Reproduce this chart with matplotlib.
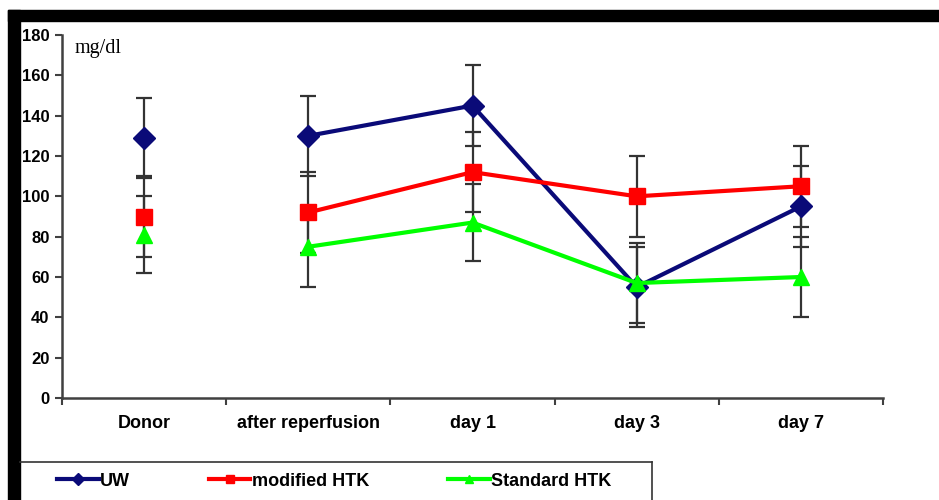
import numpy as np
import matplotlib.pyplot as plt
from matplotlib.lines import Line2D
from matplotlib.patches import Rectangle

categories = ['Donor', 'after reperfusion', 'day 1', 'day 3', 'day 7']
uw = [129, 130, 145, 55, 95]
uw_err = [20, 20, 20, 20, 20]
mod_htk = [90, 92, 112, 100, 105]
mod_htk_err = [20, 20, 20, 20, 20]
std_htk = [81, 75, 87, 57, 60]
std_htk_err = [19, 20, 19, 20, 20]
yticks = [0, 20, 40, 60, 80, 100, 120, 140, 160, 180]

series = [
    ('UW', uw, uw_err, '#0a0a78', 'D', 11),
    ('modified HTK', mod_htk, mod_htk_err, '#ff0000', 's', 12),
    ('Standard HTK', std_htk, std_htk_err, '#00ff00', '^', 12),
]

bold = dict(family=['Liberation Sans Narrow', 'Liberation Sans'], weight='bold')

fig = plt.figure(figsize=(9.39, 5.0), dpi=100)
W, H = 939, 500
ax = fig.add_axes([62 / W, 102 / H, (883 - 62) / W, (398 - 35) / H])

x = np.arange(len(categories))
handles = []
for k, (name, vals, err, col, mk, ms) in enumerate(series):
    vals = np.array(vals, dtype=float)
    ax.errorbar(x, vals, yerr=err, fmt='none', ecolor='#333333', elinewidth=1.6,
                capsize=6, capthick=1.6, zorder=2)
    # donor is not joined to the rest
    ax.plot(x[1:], vals[1:], color=col, lw=3, zorder=3 + k)
    ax.plot(x, vals, ls='none', marker=mk, ms=ms, color=col, mec=col, zorder=3 + k)
    handles.append(Line2D([], [], color=col, lw=3, marker=mk, ms=6, mec=col))

ax.set_xlim(-0.5, len(categories) - 0.5)
ax.set_ylim(0, 180)
ax.set_yticks(yticks)
ax.set_yticklabels([str(v) for v in yticks], fontsize=12, **bold)
ax.set_xticks(x)
ax.set_xticklabels(categories, fontsize=13, **bold)
ax.set_xticks(np.arange(len(categories) + 1) - 0.5, minor=True)
ax.tick_params(axis='x', which='major', length=0, pad=12)
ax.tick_params(axis='x', which='minor', length=5, width=1.5, color='#404040', direction='out')
ax.tick_params(axis='y', length=5, width=1.5, color='#404040', direction='out', pad=4)
for s in ['top', 'right']:
    ax.spines[s].set_visible(False)
for s in ['left', 'bottom']:
    ax.spines[s].set_color('#404040')
    ax.spines[s].set_linewidth(1.8)

ax.text(0.015, 0.99, 'mg/dl', transform=ax.transAxes, fontsize=14.5,
        family='Liberation Serif', va='top', ha='left')

# black frame at top and left
fig.patches.append(Rectangle((8 / W, 1 - 21 / H), 1, 11 / H, transform=fig.transFigure,
                             color='black', zorder=0))
fig.patches.append(Rectangle((8 / W, 0), 12 / W, 1 - 10 / H, transform=fig.transFigure,
                             color='black', zorder=0))

# legend box (top and right edges visible)
fig.lines.append(Line2D([20 / W, 652 / W], [1 - 462 / H, 1 - 462 / H],
                        transform=fig.transFigure, color='#333333', lw=1.2))
fig.lines.append(Line2D([652 / W, 652 / W], [0, 1 - 462 / H],
                        transform=fig.transFigure, color='#333333', lw=1.2))
leg = fig.legend(handles, [s[0] for s in series], loc='center left',
                 bbox_to_anchor=(57 / W, 1 - 481 / H), ncol=3, frameon=False,
                 prop=dict(size=13, **bold), handlelength=2.3, handletextpad=0.1,
                 columnspacing=4.35, borderpad=0, borderaxespad=0)

fig.savefig('out.png', dpi=100)
